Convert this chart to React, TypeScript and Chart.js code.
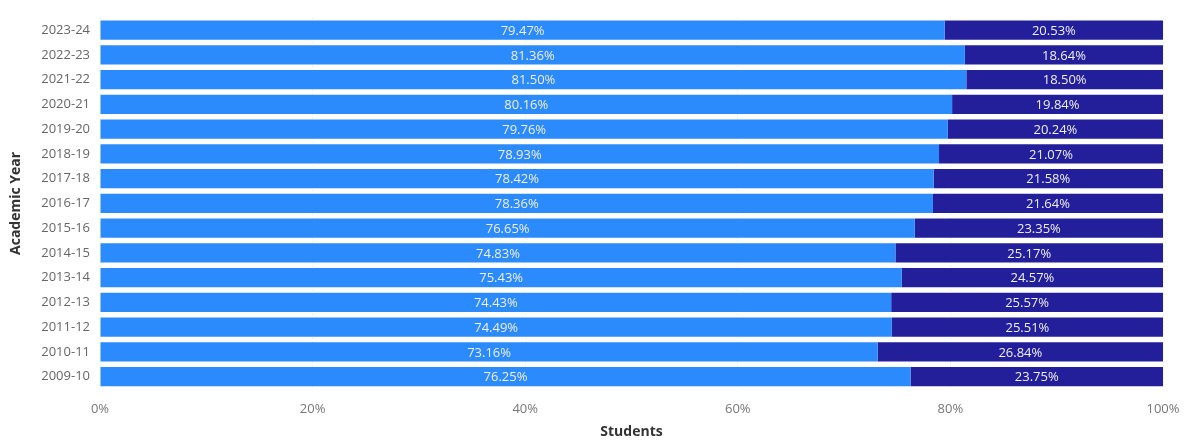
import React, { useEffect, useRef } from "react";
import { Chart, registerables } from "chart.js";

Chart.register(...registerables);

const years = [
  "2023-24", "2022-23", "2021-22", "2020-21", "2019-20", "2018-19", "2017-18",
  "2016-17", "2015-16", "2014-15", "2013-14", "2012-13", "2011-12", "2010-11", "2009-10",
];
const shareA = [79.47, 81.36, 81.5, 80.16, 79.76, 78.93, 78.42, 78.36, 76.65, 74.83, 75.43, 74.43, 74.49, 73.16, 76.25];
const shareB = [20.53, 18.64, 18.5, 19.84, 20.24, 21.07, 21.58, 21.64, 23.35, 25.17, 24.57, 25.57, 25.51, 26.84, 23.75];
const xTicks = [0, 20, 40, 60, 80, 100];

const FONT = "'Open Sans', 'Noto Sans', sans-serif";

const labelPlugin = {
  id: "segLabels",
  afterDatasetsDraw(chart: any) {
    const ctx = chart.ctx;
    ctx.save();
    ctx.font = `13px ${FONT}`;
    ctx.fillStyle = "#EEEEF5";
    ctx.textAlign = "center";
    ctx.textBaseline = "middle";
    chart.data.datasets.forEach((ds: any, di: number) => {
      const meta = chart.getDatasetMeta(di);
      meta.data.forEach((bar: any, i: number) => {
        const { x, base, y } = bar.getProps(["x", "base", "y"], true);
        const cx = (x + base) / 2;
        ctx.fillText(ds.data[i].toFixed(2) + "%", cx, y + 1);
      });
    });
    ctx.restore();
  },
};

export default function App() {
  const ref = useRef<HTMLCanvasElement>(null);
  useEffect(() => {
    document.body.style.margin = "0";
    const chart = new Chart(ref.current!, {
      type: "bar",
      data: {
        labels: years,
        datasets: [
          { label: "Share A", data: shareA, backgroundColor: "#2C8BFC", barPercentage: 0.78, categoryPercentage: 1 },
          { label: "Share B", data: shareB, backgroundColor: "#231E9A", barPercentage: 0.78, categoryPercentage: 1 },
        ],
      },
      options: {
        indexAxis: "y",
        animation: false,
        responsive: false,
        maintainAspectRatio: false,
        layout: { padding: { top: 15, right: 24, left: 4, bottom: 0 } },
        plugins: { legend: { display: false }, tooltip: { enabled: false } },
        scales: {
          x: {
            stacked: true,
            min: 0,
            max: 100,
            afterBuildTicks: (s: any) => { s.ticks = xTicks.map((v) => ({ value: v })); },
            afterFit: (s: any) => { s.height = 51; s.paddingRight = 0; s.paddingLeft = 0; },
            ticks: { callback: (v: any) => v + "%", color: "#777", font: { family: FONT, size: 13 }, padding: 12 },
            grid: { color: "rgba(200,200,200,0.5)", drawTicks: false, lineWidth: 1 },
            border: { display: false, dash: [1, 3] },
            title: { display: true, text: "Students", color: "#333", font: { family: FONT, size: 14, weight: "bold" }, padding: { top: 4, bottom: 0 } },
          },
          y: {
            stacked: true,
            afterFit: (s: any) => { s.width = 96; },
            ticks: { color: "#666", font: { family: FONT, size: 13 }, padding: 10 },
            grid: { display: false, drawTicks: false },
            border: { display: false },
            title: { display: true, text: "Academic Year", color: "#333", font: { family: FONT, size: 14, weight: "bold" }, padding: 4 },
          },
        },
      },
      plugins: [labelPlugin],
    });
    return () => chart.destroy();
  }, []);
  return (
    <div style={{ width: 1187, height: 440 }}>
      <canvas ref={ref} width={1187} height={440} style={{ display: "block" }} />
    </div>
  );
}
